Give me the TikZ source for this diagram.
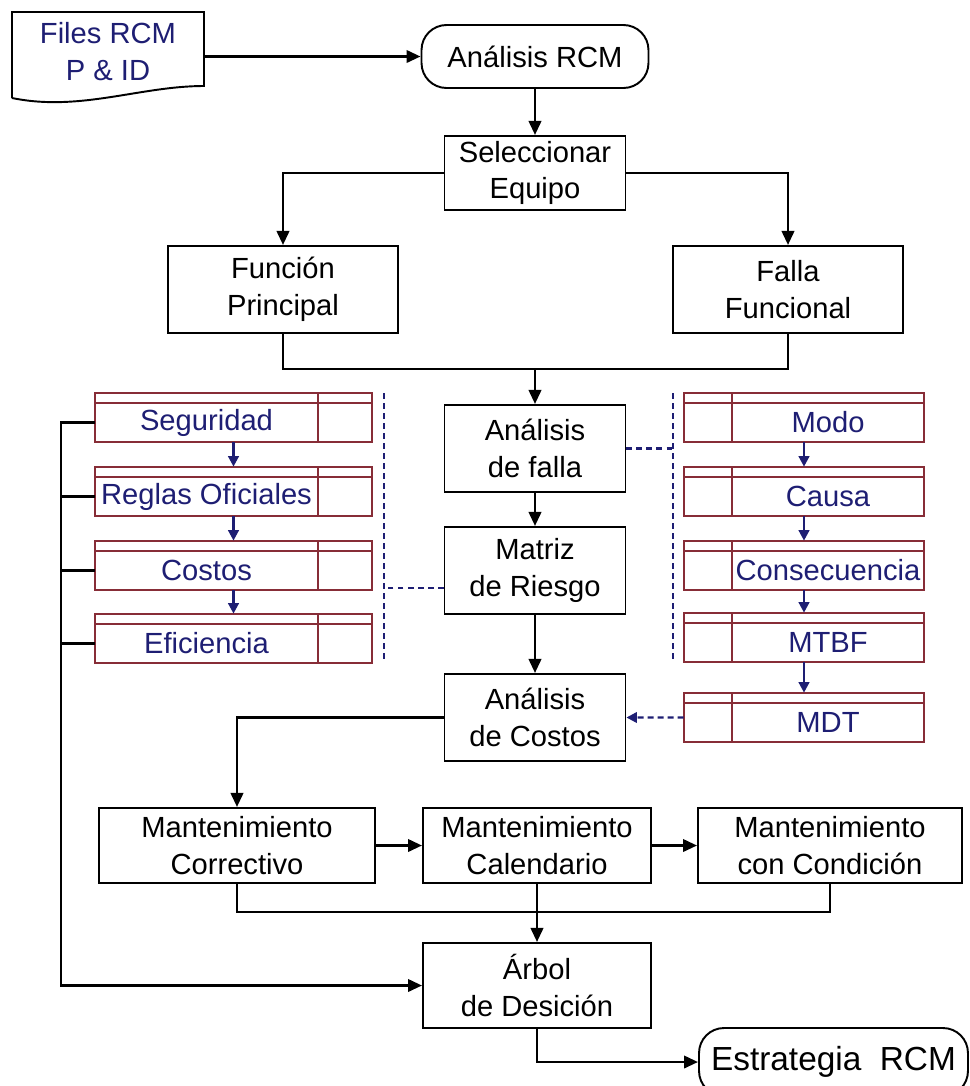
\documentclass[tikz,border=0pt]{standalone}
\usepackage{fontspec}
\setmainfont{Liberation Sans}
\usetikzlibrary{arrows.meta,calc}

\definecolor{azul}{RGB}{30,30,115}
\definecolor{granate}{RGB}{135,45,55}

\tikzset{
  caja/.style={draw, line width=1.1pt, align=center, inner sep=0pt, minimum height=1.74cm},
  terminal/.style={draw, line width=1.1pt, rounded corners=0.5cm, inner sep=0pt, align=center},
  celda/.style={inner sep=0pt, minimum height=0.78cm, text=azul},
  borde/.style={draw=granate, line width=1pt},
  linea/.style={line width=1.6pt},
  flecha/.style={line width=1.6pt, -{Triangle[length=8pt,width=7pt]}},
  flechaazul/.style={azul, line width=1.4pt, -{Triangle[length=6pt,width=6pt]}},
  punteado/.style={azul, line width=1.3pt, dash pattern=on 3.4pt off 2.3pt},
}

% fila de tabla, celda de texto a la izquierda
\newcommand{\filaizq}[3]{%
  \node[celda, minimum width=4.46cm] (#1) at (#2) {#3};
  \draw[borde] (#1.south west) rectangle ([xshift=1.08cm,yshift=0.2cm]#1.north east);
  \draw[borde] (#1.north west) -- ([xshift=1.08cm]#1.north east);
  \draw[borde] (#1.south east) -- ([yshift=0.2cm]#1.north east);
}
% fila de tabla, celda de texto a la derecha
\newcommand{\filader}[3]{%
  \node[celda, minimum width=3.84cm] (#1) at (#2) {#3};
  \draw[borde] ([xshift=-0.96cm]#1.south west) rectangle ([yshift=0.2cm]#1.north east);
  \draw[borde] ([xshift=-0.96cm]#1.north west) -- (#1.north east);
  \draw[borde] (#1.south west) -- ([yshift=0.2cm]#1.north west);
}

\begin{document}
\begin{tikzpicture}[x=0.02cm, y=-0.02cm, font=\fontsize{16.6}{21}\selectfont]
\useasboundingbox (0,0) rectangle (970,1086);

% entrada y terminal
\draw[line width=1.1pt] (12,98) -- (12,12) -- (204,12) -- (204,86) .. controls (140,86) and (80,112) .. (12,98);
\node[text=azul, minimum width=3.84cm, minimum height=1.6cm, inner sep=0pt, align=center] (files) at (108,52) {Files RCM\\P \& ID};
\node[terminal, minimum width=4.54cm, minimum height=1.26cm] (rcm) at (535,56.5) {Análisis RCM};

% cajas principales
\node[caja, minimum width=3.62cm, minimum height=1.48cm] (sel) at (535,173) {Seleccionar\\Equipo};
\node[caja, minimum width=4.6cm] (fp) at (283,289.5) {Función\\Principal};
\node[caja, minimum width=4.6cm] (ff) at (788,289.5) {Falla\\Funcional};
\node[caja, minimum width=3.62cm] (af) at (535,448.5) {Análisis\\de falla};
\node[caja, minimum width=3.62cm] (mr) at (535,570.5) {Matriz\\de Riesgo};
\node[caja, minimum width=3.62cm] (ac) at (535,717.5) {Análisis\\de Costos};
\node[caja, minimum width=5.52cm, minimum height=1.5cm] (mc) at (237,845.5) {Mantenimiento\\Correctivo};
\node[caja, minimum width=4.56cm, minimum height=1.5cm] (mcal) at (537,845.5) {Mantenimiento\\Calendario};
\node[caja, minimum width=5.28cm, minimum height=1.5cm] (mcon) at (830,845.5) {Mantenimiento\\con Condición};
\node[caja, minimum width=4.56cm, minimum height=1.7cm] (ar) at (537,985.5) {Árbol\\de Desición};
\node[terminal, minimum width=5.38cm, minimum height=1.36cm, font=\fontsize{19}{22}\selectfont] (est) at (833.5,1062) {Estrategia\ \ RCM};

% tablas
\filaizq{seg}{206.5,422.5}{Seguridad}
\filaizq{reg}{206.5,496.5}{Reglas Oficiales}
\filaizq{cos}{206.5,570.5}{Costos}
\filaizq{efi}{206.5,643.5}{Eficiencia}
\filader{mod}{828,422.5}{Modo}
\filader{cau}{828,496.5}{Causa}
\filader{con}{828,570.5}{Consecuencia}
\filader{mtbf}{828,642.5}{MTBF}
\filader{mdt}{828,722.5}{MDT}

\draw[flechaazul] ([xshift=0.54cm]seg.south) -- ([xshift=0.54cm,yshift=0.2cm]reg.north);
\draw[flechaazul] ([xshift=0.54cm]reg.south) -- ([xshift=0.54cm,yshift=0.2cm]cos.north);
\draw[flechaazul] ([xshift=0.54cm]cos.south) -- ([xshift=0.54cm,yshift=0.2cm]efi.north);
\draw[flechaazul] ([xshift=-0.48cm]mod.south) -- ([xshift=-0.48cm,yshift=0.2cm]cau.north);
\draw[flechaazul] ([xshift=-0.48cm]cau.south) -- ([xshift=-0.48cm,yshift=0.2cm]con.north);
\draw[flechaazul] ([xshift=-0.48cm]con.south) -- ([xshift=-0.48cm,yshift=0.2cm]mtbf.north);
\draw[flechaazul] ([xshift=-0.48cm]mtbf.south) -- ([xshift=-0.48cm,yshift=0.2cm]mdt.north);

% conexiones
\coordinate (j1) at (535,369);
\coordinate (j2) at (537,912);
\coordinate (lx) at (61,0);
\draw[flecha] (files.east |- rcm.west) -- (rcm.west);
\draw[flecha] (rcm.south) -- (sel.north);
\draw[flecha] (sel.west) -| (fp.north);
\draw[flecha] (sel.east) -| (ff.north);
\draw[linea] (fp.south) |- (j1) -| (ff.south);
\draw[flecha] (j1) -- (af.north);
\draw[flecha] (af.south) -- (mr.north);
\draw[flecha] (mr.south) -- (ac.north);
\draw[flecha] (ac.west) -| (mc.north);
\draw[flecha] (mc.east) -- (mcal.west);
\draw[flecha] (mcal.east) -- (mcon.west);
\draw[linea] (mc.south) |- (j2) -| (mcon.south);
\draw[flecha] (mcal.south) -- (ar.north);
\draw[flecha] (ar.south) |- (est.west);
\draw[flecha] (seg.west) -- (seg.west -| lx) |- (ar.west);
\foreach \n in {reg,cos,efi}
  \draw[linea] (\n.west) -- (\n.west -| lx);

% lineas punteadas
\coordinate (dizq) at (384,588);
\coordinate (dder) at (673,448.5);
\draw[punteado] (384,393) -- (384,663);
\draw[punteado] (673,393) -- (673,660);
\draw[punteado] (mr.west |- dizq) -- (dizq);
\draw[punteado] (af.east) -- (af.east -| dder);
\draw[punteado, -{Triangle[length=6pt,width=6pt]}] ([xshift=-0.96cm,yshift=0.1cm]mdt.west) -- (ac.east);
\end{tikzpicture}
\end{document}
